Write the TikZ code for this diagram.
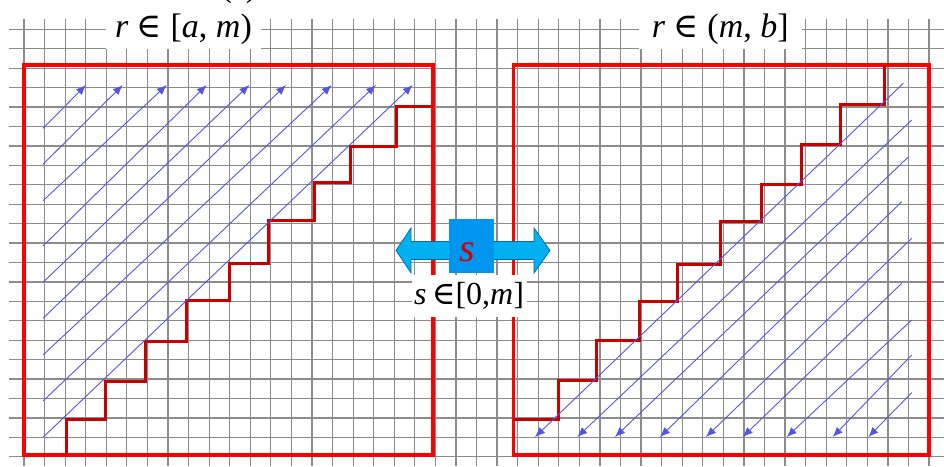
\documentclass[tikz,border=0pt]{standalone}
\usepackage{fontspec}
\setmainfont{Liberation Serif}
\newfontfamily\symfam{DejaVu Serif}
\usetikzlibrary{arrows.meta}
\definecolor{gridc}{RGB}{140,140,140}
\definecolor{boxred}{RGB}{255,0,0}
\definecolor{stairred}{RGB}{200,0,0}
\definecolor{flowblue}{RGB}{85,85,225}
\definecolor{arrowcyan}{RGB}{0,176,240}
\definecolor{arrowedge}{RGB}{0,110,180}
\definecolor{sqblue}{RGB}{0,150,240}
\definecolor{sred}{RGB}{210,0,0}
\tikzset{
 gridline/.style={draw=gridc, line width=1.25pt},
 boxframe/.style={draw=boxred, line width=3.2pt},
 stairs/.style={draw=stairred, line width=3pt, line join=miter},
 flow/.style={draw=flowblue, line width=0.9pt, -{Latex[length=10pt,width=8pt]}},
 lbl/.style={fill=white, inner sep=0pt, font=\fontsize{34}{40}\selectfont},
}
\begin{document}
\begin{tikzpicture}[x=1pt,y=-1pt]
\useasboundingbox (0,0) rectangle (944,466);
\fill[white] (0,0) rectangle (944,466);
% grid
\foreach \k in {0,...,44} \draw[gridline] ({24+20.57*\k},19) -- ({24+20.57*\k},466);
\foreach \j in {0,...,22} \draw[gridline] (8.5,{29.3+19.43*\j}) -- (944,{29.3+19.43*\j});
% boxes
\draw[boxframe] (24,65) rectangle (433,455);
\draw[boxframe] (513.3,65) rectangle (929,455);
% stairs
\draw[stairs] (66,455) -- (66,419) -- (105,419) -- (105,381.7) -- (145.5,381.7) -- (145.5,341.7)
  -- (186.7,341.7) -- (186.7,300) -- (229.3,300) -- (229.3,263.3) -- (268.3,263.3) -- (268.3,220.7)
  -- (314,220.7) -- (314,182.7) -- (350,182.7) -- (350,146.7) -- (396,146.7) -- (396,106.7) -- (433,106.7);
\draw[stairs] (513.3,419) -- (558.3,419) -- (558.3,380.7) -- (596,380.7) -- (596,340) -- (639.3,340)
  -- (639.3,301.7) -- (677.3,301.7) -- (677.3,264.3) -- (720.7,264.3) -- (720.7,221) -- (761,221)
  -- (761,184.3) -- (801.7,184.3) -- (801.7,144) -- (840,144) -- (840,104) -- (884,104) -- (884,65);
% flows left
\foreach \ys/\xt [count=\i] in {128.3/86, 164.3/122.7, 200.7/166.7, 246/206.7, 282.3/249.3, 318.3/286, 355/331.7, 401/376, 437.3/412.7} {
  \coordinate (ls\i) at (43,\ys);
  \coordinate (lt\i) at (\xt,85);
  \draw[flow] (ls\i) -- (lt\i);
}
% flows right
\foreach \xs/\ys/\xt [count=\i] in {903.3/83.3/535, 911.7/120/577.3, 908.3/157/615, 901.7/201.7/660, 911.7/238.3/706, 901.7/283.3/742.7, 911.7/320/786.7, 911.7/355/832.7, 911.7/392.7/868.3} {
  \coordinate (rs\i) at (\xs,\ys);
  \coordinate (rt\i) at (\xt,437);
  \draw[flow] (rs\i) -- (rt\i);
}
% labels
\node[lbl, minimum width=155pt, minimum height=40pt] (lblL) at (183.5,29) {\textit{r} {\symfam ∈} [\textit{a}, \textit{m})};
\node[lbl, minimum width=163pt, minimum height=40pt] (lblR) at (720.3,29) {\textit{r} {\symfam ∈} (\textit{m}, \textit{b}]};
\node[font=\fontsize{34}{40}\selectfont, anchor=base, inner sep=0pt] (cut) at (239,-4) {(\hspace{14pt})};
% centre widget
\draw[fill=arrowcyan, draw=arrowedge, line width=0.8pt] (396,250.5) -- (411,228) -- (411,241.5) -- (534,241.5)
  -- (534,228) -- (550,250.5) -- (534,273) -- (534,259.5) -- (411,259.5) -- (411,273) -- cycle;
\node[fill=sqblue, minimum width=45pt, minimum height=54pt, inner sep=0pt] (sq) at (471.7,246) {};
\node[text=sred, font=\fontsize{40}{46}\selectfont\itshape, inner sep=0pt] (sl) at (467.5,252) {s};
\node[lbl, minimum width=115pt, minimum height=41.7pt, font=\fontsize{32}{38}\selectfont] (lblS) at (469,296) {\textit{s}\,{\symfam ∈}[0,\textit{m}]};
\end{tikzpicture}
\end{document}
